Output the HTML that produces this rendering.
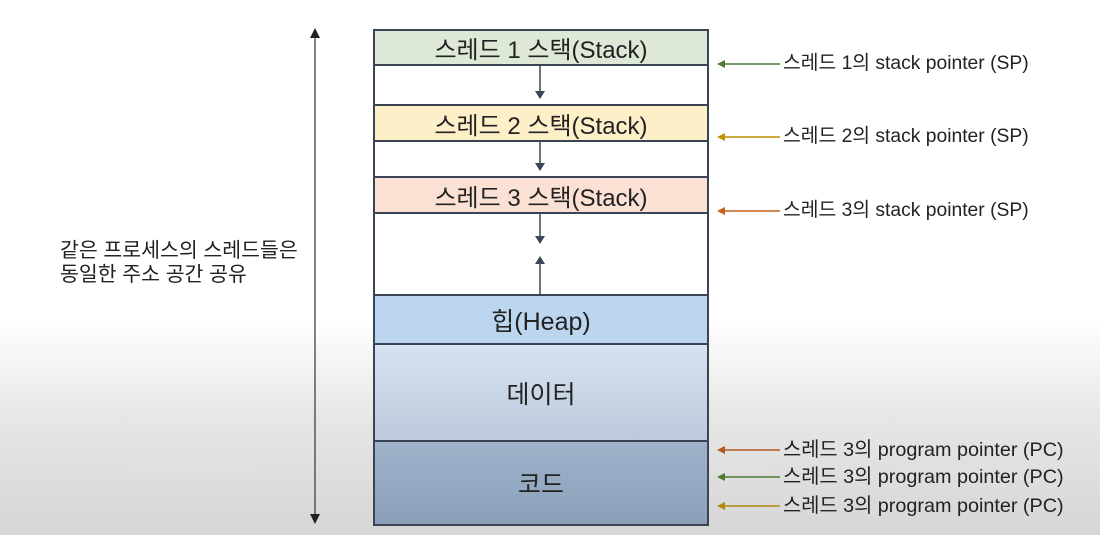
<!DOCTYPE html>
<html><head><meta charset="utf-8"><style>
body{margin:0;width:1100px;height:535px;overflow:hidden;position:relative;font-family:"Liberation Sans","Noto Sans CJK KR",sans-serif;color:#222;
background:linear-gradient(#fff 0,#fff 320px,#e6e6e6 420px,#d6d6d6 535px);}
.b{position:absolute;left:373px;width:336px;border:2px solid #3a4454;display:flex;align-items:center;justify-content:center;font-size:24px;color:#222;box-sizing:border-box}
.t{position:absolute;left:783px;font-size:19.3px;line-height:22px;white-space:nowrap;color:#222}
.p{font-size:19.8px}
</style></head><body>
<div class="b" style="top:29px;height:37px;background:#dde8d6">스레드 1 스택(Stack)</div>
<div class="b" style="top:64px;height:42px;background:#fff"></div>
<div class="b" style="top:104px;height:38px;background:#fdefc8">스레드 2 스택(Stack)</div>
<div class="b" style="top:140px;height:38px;background:#fff"></div>
<div class="b" style="top:176px;height:38px;background:#fbe1d3">스레드 3 스택(Stack)</div>
<div class="b" style="top:212px;height:84px;background:#fff"></div>
<div class="b" style="top:294px;height:51px;background:#bdd6ef;font-size:25px">힙(Heap)</div>
<div class="b" style="top:343px;height:99px;background:linear-gradient(#d4e2f2,#bccadb);font-size:25px">데이터</div>
<div class="b" style="top:440px;height:86px;background:linear-gradient(#9fb3cb,#8aa0b9);font-size:25px">코드</div>
<div style="position:absolute;left:60px;top:239px;font-size:20.5px;line-height:24px">같은 프로세스의 스레드들은<br>동일한 주소 공간 공유</div>
<div class="t" style="top:53px">스레드 1의 stack pointer (SP)</div>
<div class="t" style="top:126px">스레드 2의 stack pointer (SP)</div>
<div class="t" style="top:200px">스레드 3의 stack pointer (SP)</div>
<div class="t p" style="top:439px">스레드 3의 program pointer (PC)</div>
<div class="t p" style="top:466px">스레드 3의 program pointer (PC)</div>
<div class="t p" style="top:495px">스레드 3의 program pointer (PC)</div>
<svg width="1100" height="535" style="position:absolute;left:0;top:0">
<g stroke="#333" stroke-width="1.2"><line x1="315" y1="36" x2="315" y2="516"/></g>
<polygon points="310,38 320,38 315,28" fill="#222"/><polygon points="310,514 320,514 315,524" fill="#222"/>
<g stroke="#444" stroke-width="1.5"><line x1="540" y1="66" x2="540" y2="92"/><line x1="540" y1="142" x2="540" y2="163"/><line x1="540" y1="214" x2="540" y2="236"/><line x1="540" y1="264" x2="540" y2="294"/></g>
<g fill="#3c4658"><polygon points="535,91 545,91 540,99"/><polygon points="535,163 545,163 540,171"/><polygon points="535,236 545,236 540,244"/><polygon points="535,264 545,264 540,256"/></g>
<g stroke-width="1.5">
<line x1="722" y1="64" x2="780" y2="64" stroke="#4d7a34"/><polygon points="717,64 725,60 725,68" fill="#4d7a34"/>
<line x1="722" y1="137" x2="780" y2="137" stroke="#c09000"/><polygon points="717,137 725,133 725,141" fill="#c09000"/>
<line x1="722" y1="211" x2="780" y2="211" stroke="#c8601c"/><polygon points="717,211 725,207 725,215" fill="#c8601c"/>
<line x1="722" y1="450" x2="780" y2="450" stroke="#b05a20"/><polygon points="717,450 725,446 725,454" fill="#b05a20"/>
<line x1="722" y1="477" x2="780" y2="477" stroke="#4d7a34"/><polygon points="717,477 725,473 725,481" fill="#4d7a34"/>
<line x1="722" y1="506" x2="780" y2="506" stroke="#b08a10"/><polygon points="717,506 725,502 725,510" fill="#b08a10"/>
</g>
</svg>
</body></html>
